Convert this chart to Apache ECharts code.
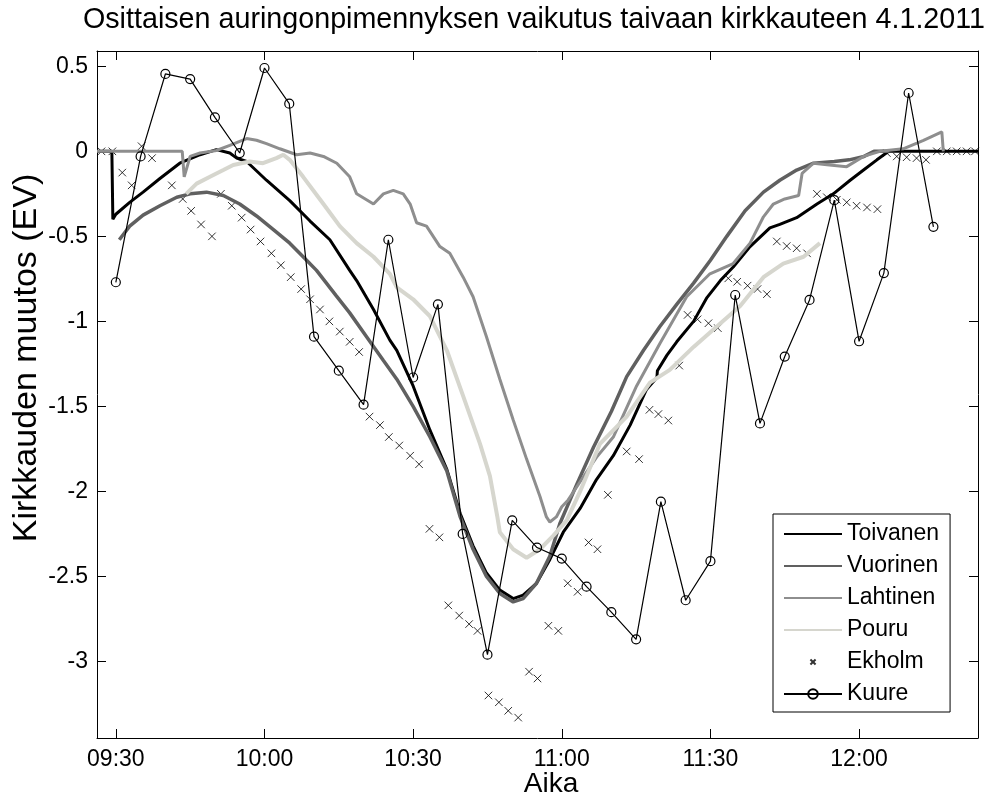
<!DOCTYPE html>
<html><head><meta charset="utf-8">
<script src="https://cdn.jsdelivr.net/npm/echarts@6/dist/echarts.min.js"></script>
<style>html,body{margin:0;padding:0;background:#fff}#c{width:991px;height:798px}</style>
</head><body><div id="c"></div>
<script>
const FONT = '"Liberation Sans", Arial, Helvetica, sans-serif';
// Time values are minutes after 09:00
const xTickMinutes = [30, 60, 90, 120, 150, 180];
const yTickValues = [-3, -2.5, -2, -1.5, -1, -0.5, 0, 0.5];
const seriesNames = ['Toivanen', 'Vuorinen', 'Lahtinen', 'Pouru', 'Ekholm', 'Kuure'];

const toivanenTime = [26.2, 29.2, 29.4, 30, 32.8, 35.5, 38.9, 42.9, 47, 50.3, 53, 54.4, 56.4, 60.4, 65.1, 69.2, 73.2, 77.2, 78.6, 82, 85.3, 86.7, 90, 93.4, 96.8, 99.5, 102.1, 104.8, 107.5, 110.2, 112.2, 114.9, 117.6, 120.3, 123.7, 127, 130.4, 133.8, 137.1, 139.2, 139.3, 141.2, 143.2, 146.6, 149.3, 152, 154.6, 158, 162, 164, 167.4, 171.5, 174.8, 178.2, 180.9, 183.6, 185, 186, 204];
const toivanenEV = [0, 0, -0.40, -0.37, -0.30, -0.24, -0.16, -0.07, -0.02, 0.01, -0.01, -0.04, -0.06, -0.17, -0.29, -0.41, -0.52, -0.70, -0.76, -0.93, -1.11, -1.17, -1.38, -1.64, -1.87, -2.13, -2.32, -2.48, -2.58, -2.63, -2.61, -2.54, -2.40, -2.24, -2.10, -1.93, -1.79, -1.61, -1.40, -1.33, -1.29, -1.20, -1.12, -1.00, -0.86, -0.76, -0.68, -0.56, -0.45, -0.43, -0.39, -0.31, -0.25, -0.17, -0.11, -0.05, -0.02, 0, 0];

const vuorinenTime = [30.7, 32.8, 35.5, 38.9, 42.3, 45, 48.3, 51.7, 55, 58.4, 61.8, 65.1, 68.5, 70.5, 74.5, 77.2, 80.6, 84, 86.7, 90, 93.4, 96.8, 99.5, 102.1, 104.8, 107.5, 110.2, 112.2, 114.9, 117.6, 119.6, 123, 126.4, 130, 133.1, 136.5, 139.8, 143.2, 146.6, 150, 153.3, 157, 160.7, 164, 167.4, 170.8, 175, 178, 181, 183, 186];
const vuorinenEV = [-0.52, -0.44, -0.375, -0.32, -0.27, -0.25, -0.24, -0.26, -0.31, -0.38, -0.46, -0.54, -0.64, -0.70, -0.85, -0.95, -1.09, -1.23, -1.34, -1.50, -1.68, -1.88, -2.15, -2.34, -2.50, -2.60, -2.65, -2.63, -2.54, -2.38, -2.19, -1.96, -1.74, -1.53, -1.325, -1.17, -1.03, -0.90, -0.775, -0.64, -0.50, -0.35, -0.24, -0.17, -0.11, -0.07, -0.06, -0.05, -0.03, 0, 0];

const lahtinenTime = [26.2, 43.4, 43.8, 45, 47, 50.3, 53, 56.4, 58.4, 60.4, 63.1, 66.5, 69.2, 71.9, 74.6, 77.2, 78.6, 82, 84, 86, 88, 89.4, 90.7, 92.7, 95.4, 97.4, 100.1, 102.1, 104.8, 107.5, 110.2, 112.9, 115.6, 116.9, 117.6, 118.9, 120, 121.3, 124, 127, 130.4, 135.1, 139.8, 145.2, 149.9, 154.6, 158, 160.7, 162.7, 165, 167.8, 168.5, 170.8, 174, 177.5, 180.9, 184.2, 188.9, 193, 196.7, 197];
const lahtinenEV = [0, 0, -0.15, -0.03, -0.01, 0.005, 0.035, 0.075, 0.065, 0.045, 0.015, -0.02, -0.01, -0.03, -0.07, -0.15, -0.25, -0.31, -0.25, -0.23, -0.25, -0.31, -0.42, -0.44, -0.56, -0.60, -0.74, -0.855, -1.09, -1.34, -1.58, -1.81, -2.03, -2.15, -2.18, -2.15, -2.09, -2.05, -1.93, -1.80, -1.68, -1.38, -1.13, -0.855, -0.72, -0.66, -0.54, -0.385, -0.31, -0.28, -0.26, -0.13, -0.07, -0.08, -0.09, -0.03, 0, 0.015, 0.065, 0.115, 0];

const pouruTime = [44.2, 46.3, 49, 51.7, 53.7, 57, 59.7, 62.4, 63.8, 65.1, 67.8, 71.9, 75.2, 78.6, 82, 85.3, 86.7, 90, 93.4, 96.8, 100.1, 103.5, 105.5, 107, 107.5, 110.2, 112.9, 115.6, 118.3, 121, 123.7, 127.7, 133.1, 137.8, 141.8, 146.6, 151.3, 156, 160.7, 164.7, 168.8, 172.1];
const pouruEV = [-0.25, -0.19, -0.15, -0.11, -0.08, -0.06, -0.07, -0.04, -0.02, -0.05, -0.15, -0.31, -0.44, -0.54, -0.62, -0.72, -0.80, -0.87, -0.97, -1.17, -1.44, -1.72, -1.91, -2.15, -2.24, -2.34, -2.39, -2.34, -2.26, -2.17, -2.0, -1.72, -1.56, -1.36, -1.285, -1.15, -1.03, -0.91, -0.74, -0.66, -0.62, -0.54];

const ekholmTime = [27.1, 29.3, 31.3, 33.2, 35.2, 37.3, 41.3, 43.5, 45.2, 47.2, 49.4, 51.2, 53.4, 55.4, 57.2, 59.2, 61.4, 63.3, 65.3, 67.4, 69.2, 71.2, 73.1, 75.2, 77.2, 79.1, 81.2, 83.3, 85.1, 87.2, 89.4, 91.2, 93.3, 95.3, 97.1, 99.3, 101.3, 103, 105.2, 107.3, 109.2, 111.2, 113.4, 115.1, 117.3, 119.3, 121.2, 123.2, 125.4, 127.2, 129.3, 133.1, 135.6, 137.7, 139.5, 141.5, 143.7, 145.4, 147.4, 149.6, 151.5, 153.6, 155.4, 157.5, 159.5, 161.4, 163.4, 165.4, 167.4, 169.5, 171.5, 173.5, 175.5, 177.5, 179.5, 181.6, 183.7, 185.6, 187.6, 189.6, 191.6, 193.5, 195.7, 197.7, 199.7, 201.7, 203.4];
const ekholmEV = [0, 0, -0.125, -0.2, 0.03, -0.04, -0.2, -0.28, -0.35, -0.43, -0.5, -0.25, -0.32, -0.39, -0.46, -0.53, -0.60, -0.67, -0.74, -0.81, -0.87, -0.93, -1.0, -1.06, -1.12, -1.18, -1.56, -1.61, -1.68, -1.73, -1.79, -1.84, -2.22, -2.27, -2.67, -2.73, -2.78, -2.82, -3.20, -3.24, -3.29, -3.33, -3.06, -3.10, -2.79, -2.82, -2.54, -2.59, -2.30, -2.34, -2.02, -1.765, -1.81, -1.52, -1.545, -1.583, -1.26, -0.962, -0.988, -1.011, -1.04, -0.747, -0.767, -0.79, -0.81, -0.84, -0.53, -0.557, -0.57, -0.60, -0.25, -0.27, -0.285, -0.30, -0.32, -0.33, -0.34, -0.01, -0.03, -0.035, -0.04, -0.05, 0, 0, 0, 0, 0];

const kuureTime = [30, 35, 40, 45, 50, 55, 60, 65, 70, 75, 80, 85, 90, 95, 100, 105, 110, 115, 120, 125, 130, 135, 140, 145, 150, 155, 160, 165, 170, 175, 180, 185, 190, 195];
const kuureEV = [-0.77, -0.03, 0.455, 0.425, 0.20, -0.01, 0.49, 0.28, -1.09, -1.29, -1.49, -0.52, -1.33, -0.90, -2.25, -2.96, -2.17, -2.33, -2.395, -2.56, -2.71, -2.87, -2.06, -2.64, -2.41, -0.845, -1.60, -1.207, -0.874, -0.287, -1.117, -0.716, 0.343, -0.444];

const zip = (t, v) => t.map((x, i) => [x, v[i]]);
const fmtTime = v => {
  const total = 9 * 60 + Math.round(v);
  const h = Math.floor(total / 60), m = total % 60;
  return String(h).padStart(2, '0') + ':' + String(m).padStart(2, '0');
};

const X_MIN = 26.2, X_MAX = 204, Y_MIN = -3.45, Y_MAX = 0.59;
const axisLineStyle = { show: true, lineStyle: { color: '#000', width: 1 } };
function xAx(pos, showLabel) {
  return {
    type: 'value', position: pos, min: X_MIN, max: X_MAX,
    axisLine: Object.assign({ onZero: false }, axisLineStyle),
    axisTick: { show: true, inside: true, length: 9, lineStyle: { color: '#000' }, customValues: xTickMinutes },
    axisLabel: { show: showLabel, customValues: xTickMinutes, formatter: fmtTime, color: '#000', fontSize: 23, fontFamily: FONT, margin: 10 },
    splitLine: { show: false }
  };
}
function yAx(pos, showLabel) {
  return {
    type: 'value', position: pos, min: Y_MIN, max: Y_MAX,
    axisLine: Object.assign({ onZero: false }, axisLineStyle),
    axisTick: { show: true, inside: true, length: 9, lineStyle: { color: '#000' }, customValues: yTickValues },
    axisLabel: { show: showLabel, customValues: yTickValues, formatter: v => String(v), color: '#000', fontSize: 23, fontFamily: FONT, margin: 9 },
    splitLine: { show: false }
  };
}

function lineSeries(name, t, v, color, width) {
  return {
    name, type: 'line', data: zip(t, v), symbol: 'none', showSymbol: false,
    itemStyle: { color: 'rgba(0,0,0,0)', borderColor: 'rgba(0,0,0,0)', borderWidth: 0 },
    lineStyle: { color, width }, silent: true
  };
}

const chart = echarts.init(document.getElementById('c'), null, { renderer: 'canvas' });
chart.setOption({
  animation: false,
  backgroundColor: '#fff',
  textStyle: { fontFamily: FONT },
  title: {
    text: 'Osittaisen auringonpimennyksen vaikutus taivaan kirkkauteen 4.1.2011',
    left: 529, top: 1, textAlign: 'center',
    textStyle: { fontSize: 28.7, fontWeight: 'normal', color: '#000', fontFamily: FONT }
  },
  grid: { left: 97, right: 13, top: 51, bottom: 60, containLabel: false, outerBoundsMode: 'none' },
  xAxis: [xAx('bottom', true), xAx('top', false)],
  yAxis: [yAx('left', true), yAx('right', false)],
  legend: {
    orient: 'vertical', left: 773, top: 514,
    padding: [8, 11, 6, 10], itemGap: 8, itemWidth: 58, itemHeight: 12,
    backgroundColor: '#fff', borderColor: '#000', borderWidth: 1, borderRadius: 0,
    textStyle: { fontSize: 23, lineHeight: 24, color: '#000', fontFamily: FONT },
    selectedMode: false,
    data: [
      { name: seriesNames[0] }, { name: seriesNames[1] }, { name: seriesNames[2] }, { name: seriesNames[3] },
      { name: seriesNames[4], icon: 'path://M0,0M14,14M4,4L10,10M10,4L4,10' },
      { name: seriesNames[5] }
    ]
  },
  graphic: [
    { type: 'text', x: 27, y: 358, rotation: Math.PI / 2,
      style: { text: 'Kirkkauden muutos (EV)', fontSize: 34, fontFamily: FONT, fill: '#000', align: 'center', verticalAlign: 'middle' } },
    { type: 'text', x: 551, y: 784,
      style: { text: 'Aika', fontSize: 28, fontFamily: FONT, fill: '#000', align: 'center', verticalAlign: 'middle' } }
  ],
  series: [
    lineSeries(seriesNames[0], toivanenTime, toivanenEV, '#000000', 3),
    lineSeries(seriesNames[1], vuorinenTime, vuorinenEV, '#606060', 3.5),
    lineSeries(seriesNames[2], lahtinenTime, lahtinenEV, '#8e8e8e', 3),
    lineSeries(seriesNames[3], pouruTime, pouruEV, '#d6d6ce', 4),
    {
      name: seriesNames[4], type: 'scatter', data: zip(ekholmTime, ekholmEV),
      symbol: 'path://M0,0L10,10M10,0L0,10', symbolSize: 7.5, silent: true,
      itemStyle: { color: 'rgba(0,0,0,0)', borderColor: '#000', borderWidth: 1 }
    },
    {
      name: seriesNames[5], type: 'line', data: zip(kuureTime, kuureEV),
      symbol: 'circle', symbolSize: 9, showSymbol: true, silent: true,
      itemStyle: { color: 'rgba(0,0,0,0)', borderColor: '#000', borderWidth: 1.2 },
      lineStyle: { color: '#000', width: 1.2 }
    }
  ]
});
</script></body></html>
